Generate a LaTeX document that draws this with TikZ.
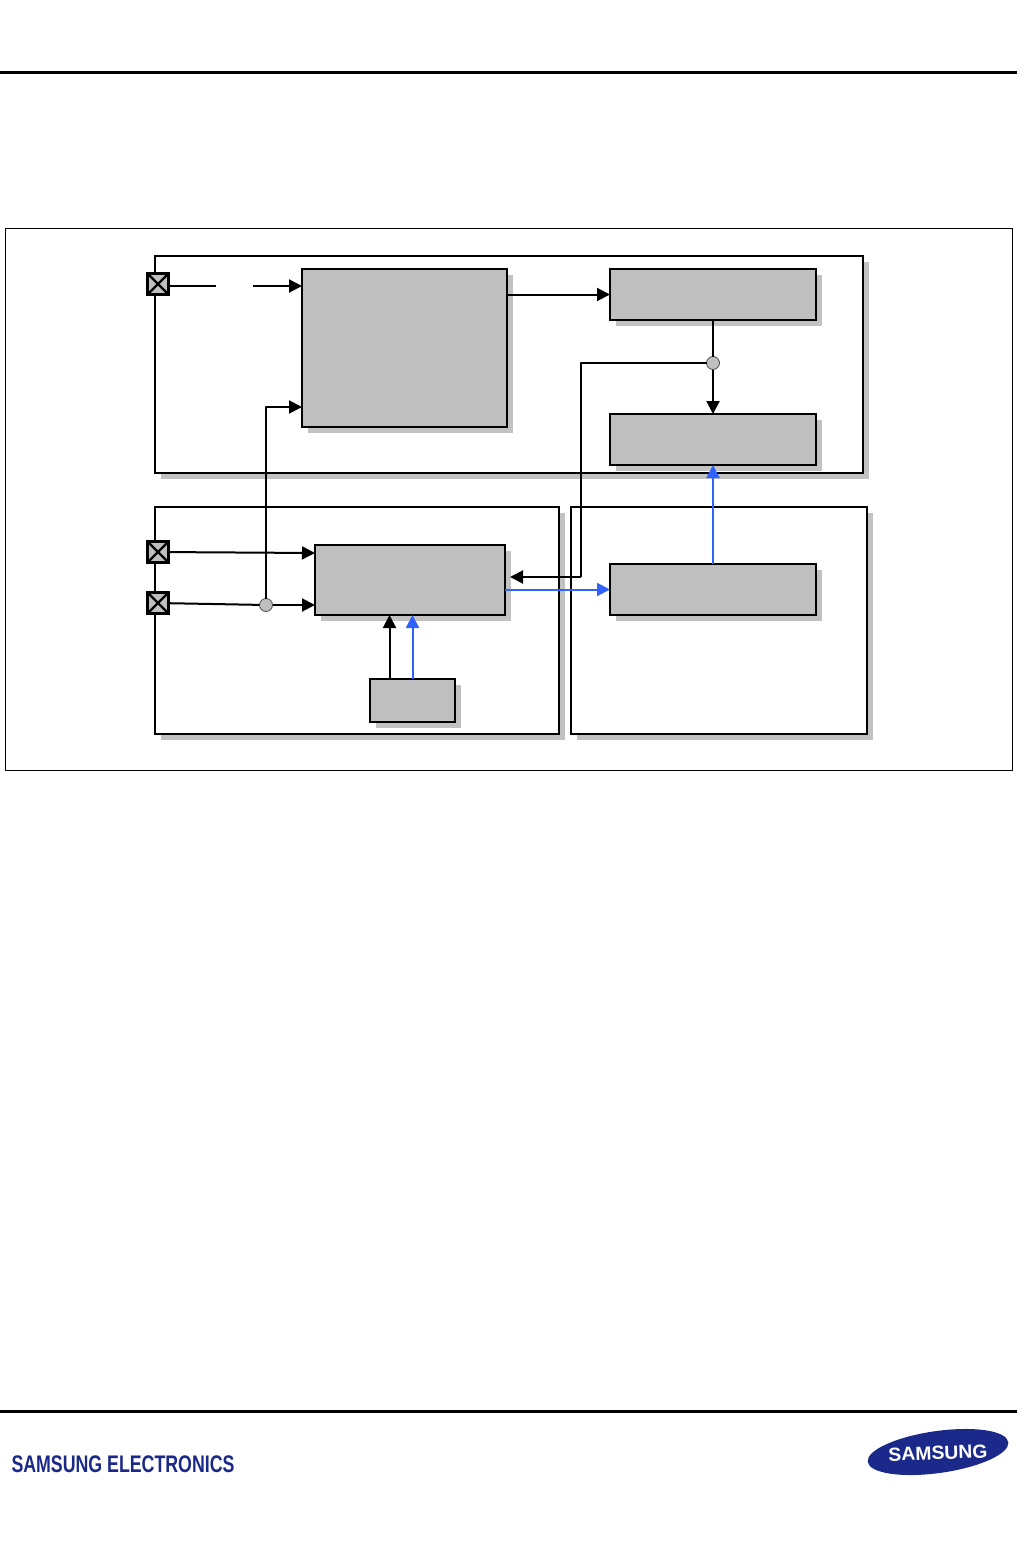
\documentclass[tikz,border=0pt]{standalone}
\usepackage{fontspec}
\setmainfont{Liberation Sans}
\usetikzlibrary{positioning,arrows.meta,shadows,shapes.geometric}
\definecolor{blockgray}{HTML}{BFBFBF}
\definecolor{shadegray}{HTML}{C2C2C2}
\definecolor{busblue}{HTML}{2F62FF}
\definecolor{logoblue}{HTML}{1B2A8A}
\tikzset{
  panelbox/.style={draw, fill=white, line width=2pt, anchor=north west, inner sep=0pt, outer sep=0pt,
    drop shadow={shadow xshift=6pt, shadow yshift=-6pt, fill=shadegray, opacity=1}},
  blockbox/.style={panelbox, fill=blockgray},
  padbox/.style={draw, fill=blockgray, line width=2.2pt, minimum size=21pt, inner sep=0pt, outer sep=0pt,
    path picture={\draw[line width=2.4pt] (path picture bounding box.north west) -- (path picture bounding box.south east)
      (path picture bounding box.south west) -- (path picture bounding box.north east);}},
  dotnode/.style={circle, draw=black!70, fill=blockgray, line width=.8pt, minimum size=13pt, inner sep=0pt, outer sep=0pt},
  wire/.style={line width=2pt, line join=round},
  bluewire/.style={wire, busblue},
}
\begin{document}
\begin{tikzpicture}[x=1pt, y=-1pt, >={Triangle[length=13pt,width=13pt]}]
  \path[use as bounding box, fill=white] (0,0) rectangle (1024,1550);
  % page rules and frame
  \draw[line width=3pt] (0,72) -- (1017,72);
  \draw[line width=3pt] (0,1411) -- (1017,1411);
  \node[draw, line width=1pt, anchor=north west, inner sep=0pt, outer sep=0pt, minimum width=1007pt, minimum height=542pt] (frame) at (5,228) {};
  % panels
  \node[panelbox, minimum width=708pt, minimum height=217pt] (toppanel) at (155,256) {};
  \node[panelbox, minimum width=404pt, minimum height=227pt] (leftpanel) at (155,507) {};
  \node[panelbox, minimum width=296pt, minimum height=227pt, right=12pt of leftpanel.north east, anchor=north west] (rightpanel) {};
  % blocks
  \node[blockbox, minimum width=205pt, minimum height=158pt] (big) at (302,269) {};
  \node[blockbox, minimum width=206pt, minimum height=51pt, right=103pt of big.north east, anchor=north west] (upper) {};
  \node[blockbox, minimum width=206pt, minimum height=51pt, below=94pt of upper.south west, anchor=north west] (lower) {};
  \node[blockbox, minimum width=206pt, minimum height=51pt, below=99pt of lower.south west, anchor=north west] (target) {};
  \node[blockbox, minimum width=190pt, minimum height=70pt] (mid) at (315,545) {};
  \node[blockbox, minimum width=85pt, minimum height=43pt, below=64pt of mid.south west, xshift=55pt, anchor=north west] (small) {};
  % pads
  \node[padbox] (pada) at (158,284) {};
  \node[padbox] (padb) at (158,552) {};
  \node[padbox] (padc) at (158,603) {};
  % junctions and free ends
  \node[dotnode] (dotl) at (266,605) {};
  \node[dotnode] (dotr) at (713,363) {};
  \coordinate (gapa) at (216,286);
  \coordinate (gapb) at (253,286);
  \coordinate (bend) at (581,577);
  \coordinate (back) at (510,577);
  % black connectors
  \draw[wire] (pada.east |- gapa) -- (gapa);
  \draw[wire, ->] (gapb) -- (gapb -| big.west);
  \draw[wire, ->] (dotl) |- ([yshift=-59pt]big.west);
  \draw[wire, ->] (padb) -- ([yshift=27pt]mid.west);
  \draw[wire] (padc) -- (dotl);
  \draw[wire, ->] (dotl) -- ([yshift=-25pt]mid.west);
  \draw[wire, ->] (big.east |- upper.west) -- (upper.west);
  \draw[wire] (upper.south) -- (dotr);
  \draw[wire, ->] (dotr) -- (lower.north);
  \draw[wire] (dotr) -| (bend);
  \draw[wire, ->] (bend) -- (back);
  \draw[wire, ->] ([xshift=-23pt]small.north) -- ([xshift=-23pt]small.north |- mid.south);
  % blue connectors
  \draw[bluewire, ->] (small.north) -- (small.north |- mid.south);
  \draw[bluewire, ->] (target.west -| mid.east) -- (target.west);
  \draw[bluewire, ->] (target.north) -- (lower.south);
  % logos
  \node[font=\bfseries\fontsize{24}{24}\selectfont, text=logoblue, xscale=.74, inner sep=0pt] (brand) at (123,1464) {SAMSUNG ELECTRONICS};
  \node[ellipse, fill=logoblue, minimum width=142pt, minimum height=42pt, rotate=8, inner sep=0pt] (logo) at (938,1452) {};
  \node[font=\bfseries\fontsize{19}{19}\selectfont, text=white, xscale=1.02, rotate=2, inner sep=0pt] (logotext) at (938,1453) {SAMSUNG};
\end{tikzpicture}
\end{document}
